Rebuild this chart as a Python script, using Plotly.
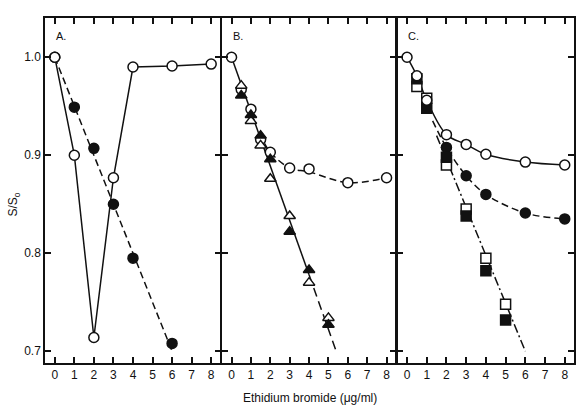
import plotly.graph_objects as go

# ---------------- data ----------------
x_ticks = [0, 1, 2, 3, 4, 5, 6, 7, 8]
y_ticks = [0.7, 0.8, 0.9, 1.0]
y_tick_labels = ["0.7", "0.8", "0.9", "1.0"]

# Panel A
a_open_x = [0, 1, 2, 3, 4, 6, 8]
a_open_y = [1.0, 0.900, 0.714, 0.877, 0.990, 0.991, 0.993]
a_fill_x = [0, 1, 2, 3, 4, 6]
a_fill_y = [1.0, 0.949, 0.907, 0.850, 0.795, 0.708]
a_fit_x = [0, 6]
a_fit_y = [1.0, 0.700]

# Panel B
b_open_x = [0, 0.5, 1, 1.5, 2, 3, 4, 6, 8]
b_open_y = [1.0, 0.967, 0.947, 0.916, 0.903, 0.887, 0.886, 0.872, 0.877]
b_curve_x = [1.7, 2, 3, 4, 6, 8]
b_curve_y = [0.912, 0.903, 0.887, 0.883, 0.872, 0.877]
b_otri_x = [0.5, 1, 1.5, 2, 3, 4, 5]
b_otri_y = [0.971, 0.935, 0.910, 0.876, 0.838, 0.770, 0.734]
b_ftri_x = [0.5, 1, 1.5, 2, 3, 4, 5]
b_ftri_y = [0.961, 0.941, 0.920, 0.896, 0.822, 0.783, 0.727]
b_fit_solid_x = [0, 4.0]
b_fit_solid_y = [1.0, 0.778]
b_fit_dash_x = [4.0, 5.4]
b_fit_dash_y = [0.778, 0.700]

# Panel C
c_open_x = [0, 0.5, 1, 2, 3, 4, 6, 8]
c_open_y = [1.0, 0.981, 0.956, 0.921, 0.911, 0.901, 0.893, 0.890]
c_fill_x = [2, 3, 4, 6, 8]
c_fill_y = [0.908, 0.879, 0.860, 0.841, 0.835]
c_fcurve_x = [1.3, 2, 3, 4, 6, 8]
c_fcurve_y = [0.935, 0.908, 0.879, 0.860, 0.841, 0.835]
c_osq_x = [0.5, 1, 2, 3, 4, 5]
c_osq_y = [0.970, 0.958, 0.890, 0.845, 0.795, 0.748]
c_fsq_x = [0.5, 1, 2, 3, 4, 5]
c_fsq_y = [0.978, 0.948, 0.898, 0.838, 0.782, 0.732]
c_fit_x = [1.5, 6]
c_fit_y = [0.920, 0.700]

panel_labels = ["A.", "B.", "C."]
x_title = "Ethidium bromide (\u03bcg/ml)"
y_title = "S/S<sub>o</sub>"

# ---------------- figure ----------------
BLACK = "#111111"
LW = 1.5
MS = 10
FONT = "Liberation Sans, Arial, sans-serif"

fig = go.Figure()


def line(x, y, ax, dash="solid", shape="linear"):
    fig.add_trace(go.Scatter(x=x, y=y, mode="lines", xaxis=ax[0], yaxis=ax[1],
                             line=dict(color=BLACK, width=LW, dash=dash, shape=shape),
                             showlegend=False, hoverinfo="skip"))


def marks(x, y, ax, symbol, filled):
    fig.add_trace(go.Scatter(x=x, y=y, mode="markers", xaxis=ax[0], yaxis=ax[1],
                             marker=dict(symbol=symbol, size=MS,
                                         color=BLACK if filled else "white",
                                         line=dict(color=BLACK, width=1.5)),
                             showlegend=False))


A = ("x", "y")
B = ("x2", "y2")
C = ("x3", "y3")

# Panel A
line(a_open_x, a_open_y, A)
line(a_fit_x, a_fit_y, A, dash="7px,4px")
marks(a_fill_x, a_fill_y, A, "circle", True)
marks(a_open_x, a_open_y, A, "circle", False)

# Panel B
line(b_fit_solid_x, b_fit_solid_y, B)
line(b_fit_dash_x, b_fit_dash_y, B, dash="9px,5px")
line(b_curve_x, b_curve_y, B, dash="7px,4px", shape="spline")
marks(b_open_x, b_open_y, B, "circle", False)
marks(b_otri_x, b_otri_y, B, "triangle-up", False)
marks(b_ftri_x, b_ftri_y, B, "triangle-up", True)

# Panel C
line(c_open_x, c_open_y, C, shape="spline")
line(c_fcurve_x, c_fcurve_y, C, dash="7px,4px", shape="spline")
line(c_fit_x, c_fit_y, C, dash="9px,3px,2px,3px")
marks(c_fill_x, c_fill_y, C, "circle", True)
marks(c_osq_x, c_osq_y, C, "square", False)
marks(c_fsq_x, c_fsq_y, C, "square", True)
marks(c_open_x, c_open_y, C, "circle", False)

g = 1.5 / 531.0
domains = [[0, 0.3315], [0.3315 + g, 0.6629], [0.6629 + g, 1.0]]
tickfont = dict(family=FONT, size=12, color=BLACK)

axis_common = dict(showline=True, linecolor=BLACK, linewidth=LW, mirror="ticks",
                   ticks="inside", ticklen=6, tickwidth=LW, tickcolor=BLACK,
                   showgrid=False, zeroline=False, tickfont=tickfont)

layout = dict(
    width=583, height=408,
    margin=dict(l=45, r=7, t=18, b=45),
    plot_bgcolor="white", paper_bgcolor="white",
)
for i, dom in enumerate(domains):
    sfx = "" if i == 0 else str(i + 1)
    layout["xaxis" + sfx] = dict(axis_common, domain=dom, range=[-0.5, 8.47],
                                 tickmode="array", tickvals=x_ticks,
                                 anchor="y" + sfx)
    layout["yaxis" + sfx] = dict(axis_common, domain=[0, 1], range=[0.688, 1.04],
                                 tickmode="array", tickvals=y_ticks,
                                 ticktext=y_tick_labels, showticklabels=(i == 0),
                                 anchor="x" + sfx)
fig.update_layout(**layout)

annotations = []
for i, lab in enumerate(panel_labels):
    annotations.append(dict(text=lab, xref="x" + ("" if i == 0 else str(i + 1)),
                            yref="y", x=-0.05, y=1.022, xanchor="left",
                            yanchor="middle", showarrow=False,
                            font=dict(family=FONT, size=11, color=BLACK)))
annotations.append(dict(text=x_title, xref="paper", yref="paper", x=0.5,
                        y=-0.10, xanchor="center", yanchor="middle", showarrow=False,
                        font=dict(family=FONT, size=12, color=BLACK)))
annotations.append(dict(text=y_title, xref="paper", yref="paper", x=-0.058,
                        y=0.46, xanchor="center", yanchor="middle", textangle=-90,
                        showarrow=False,
                        font=dict(family=FONT, size=12, color=BLACK)))
fig.update_layout(annotations=annotations)

fig.write_html("out.html")
